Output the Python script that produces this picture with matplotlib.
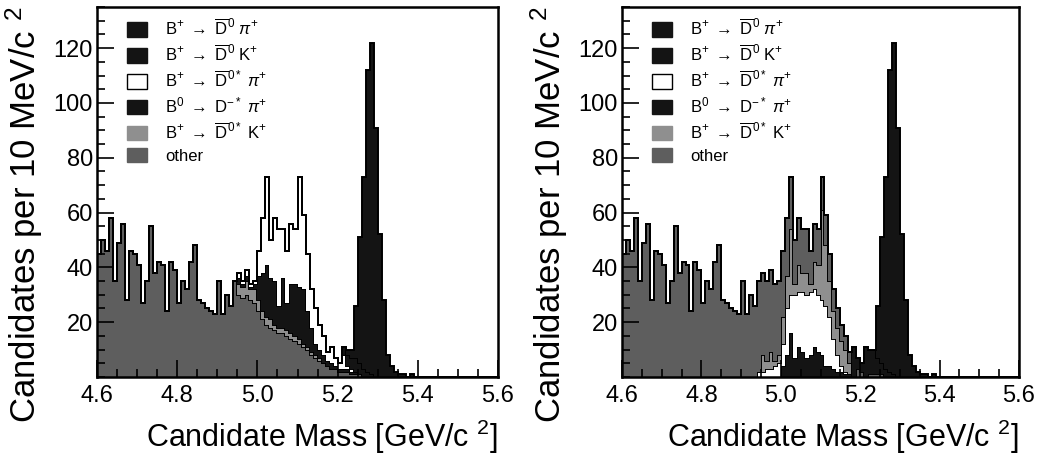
import matplotlib
matplotlib.use("Agg")
import matplotlib.pyplot as plt
import numpy as np
from matplotlib.patches import Patch
from matplotlib.ticker import MultipleLocator

plt.rcParams['font.family'] = ['Liberation Sans', 'DejaVu Sans']
plt.rcParams['mathtext.fontset'] = 'custom'
plt.rcParams['mathtext.rm'] = 'Liberation Sans'
plt.rcParams['mathtext.it'] = 'Liberation Sans:italic'
plt.rcParams['mathtext.bf'] = 'Liberation Sans:bold'

# 100 bins of 10 MeV from 4.6 to 5.6 GeV
edges = np.linspace(4.6, 5.6, 101)

# --- left panel, counts per bin: (first bin, values) ---
other_L = (0, [45, 50, 46, 58, 35, 49, 56, 28, 46, 45, 41, 27, 35, 55, 38, 42, 41, 24, 42, 39,
               27, 35, 32, 42, 48, 28, 27, 25, 24, 23, 35, 23, 30, 26, 35, 30, 29, 30, 28, 27,
               24, 21, 19, 18, 17, 16, 16, 15, 14, 13, 12, 11, 10, 8, 7, 6, 5, 4, 3, 3,
               2, 2, 2, 1, 1, 1])
dstk_L = (35, [4, 4, 5, 4, 5, 4, 3, 3, 3, 2, 2, 2, 2, 2, 2, 2, 1, 1, 1, 1, 1])
dstpi0_L = (35, [2, 1, 2, 1, 2, 9, 14, 19, 15, 16, 8, 18, 10, 18, 19, 19, 20, 13, 9, 4,
                 3, 3, 2, 2, 1, 1, 1, 1, 1, 1])
dstpi_L = (35, [2, 1, 2, 1, 1, 9, 20, 32, 14, 23, 28, 18, 19, 22, 20, 40, 27, 21, 14, 13,
                9, 7, 3, 6, 3, 2, 5, 1, 1])
d0k_L = (61, [3, 4, 4, 5, 4, 3, 2, 1])
d0pi_L = (62, [2, 3, 19, 46, 70, 110, 121, 91, 52, 28, 8, 4, 2, 1, 1, 0, 1])

# --- right panel ---
other_R = (0, [45, 50, 46, 58, 35, 49, 56, 28, 46, 45, 41, 27, 35, 55, 38, 42, 41, 24, 42, 39,
               27, 35, 32, 42, 48, 28, 27, 25, 24, 23, 35, 23, 30, 26, 33, 30, 29, 30, 28, 27,
               24, 21, 19, 16, 17, 16, 16, 12, 14, 13, 12, 11, 10, 8, 7, 6, 5, 4, 0, 3,
               2, 0, 1, 1, 1, 1])
dstk_R = (35, [6, 3, 6, 2, 3, 10, 12, 24, 4, 10, 7, 8, 3, 10, 11, 33, 22, 13, 10, 10, 9, 8, 4])
dstpi_R = (34, [2, 2, 3, 3, 4, 5, 8, 17, 14, 23, 20, 22, 23, 23, 21, 21, 20, 22, 18, 11, 6, 2, 1])
dstpi0_R = (40, [4, 8, 16, 7, 11, 9, 7, 8, 11, 9, 8, 4, 4, 3, 2, 2, 1, 1])
d0k_R = (58, [11, 4, 3, 11, 9, 9, 6, 4, 3, 2, 1])
d0pi_R = (64, [19, 46, 70, 110, 121, 91, 52, 28, 8, 4, 2, 1, 1, 0, 1])

labels = [r'B$^{+}$ $\rightarrow$ $\overline{\mathrm{D}}^{0}$ $\pi^{+}$',
          r'B$^{+}$ $\rightarrow$ $\overline{\mathrm{D}}^{0}$ K$^{+}$',
          r'B$^{+}$ $\rightarrow$ $\overline{\mathrm{D}}^{0*}$ $\pi^{+}$',
          r'B$^{0}$ $\rightarrow$ D$^{-*}$ $\pi^{+}$',
          r'B$^{+}$ $\rightarrow$ $\overline{\mathrm{D}}^{0*}$ K$^{+}$',
          'other']

BLACK = '#141414'
C_DSTK = '#8f8f8f'
C_OTHER = '#5e5e5e'
colors = [BLACK, BLACK, 'white', BLACK, C_DSTK, C_OTHER]


def place(series):
    start, vals = series
    h = np.zeros(len(edges) - 1)
    h[start:start + len(vals)] = vals
    return h


def draw_panel(ax, layers):
    bottom = np.zeros(len(edges) - 1)
    for series, col in layers:
        top = bottom + place(series)
        ax.stairs(top, edges, baseline=bottom, fill=True, color=col, lw=0)
        ax.stairs(top, edges, baseline=None, color='black', lw=1.4)
        bottom = top

    ax.set_xlim(4.6, 5.6)
    ax.set_ylim(0, 135)
    ax.set_xticks([4.6, 4.8, 5.0, 5.2, 5.4, 5.6])
    ax.set_xticklabels(['4.6', '4.8', '5.0', '5.2', '5.4', '5.6'])
    ax.set_yticks([20, 40, 60, 80, 100, 120])
    ax.xaxis.set_minor_locator(MultipleLocator(0.05))
    ax.yaxis.set_minor_locator(MultipleLocator(5))
    ax.tick_params(which='both', direction='in', top=False, right=False, width=1.2)
    ax.tick_params(which='major', length=12, labelsize=17)
    ax.tick_params(which='minor', length=6)
    ax.tick_params(axis='x', which='major', pad=6)
    ax.tick_params(axis='y', which='major', pad=3)
    for s in ax.spines.values():
        s.set_linewidth(1.8)

    ax.set_xlabel(r'Candidate Mass [GeV/c $^{2}$]', fontsize=22, loc='right')
    ax.xaxis.set_label_coords(1.0, -0.11)
    ax.set_ylabel(r'Candidates per 10 MeV/c $^{2}$', fontsize=25, loc='top')
    ax.yaxis.set_label_coords(-0.13, 1.0)

    handles = [Patch(facecolor=c, edgecolor='black' if c == 'white' else c, lw=1.0)
               for c in colors]
    ax.legend(handles, labels, loc='upper left', bbox_to_anchor=(0.075, 0.97),
              frameon=False, fontsize=12, handlelength=1.2, handleheight=0.95,
              handletextpad=1.1, labelspacing=0.35, borderpad=0, borderaxespad=0)


fig = plt.figure(figsize=(10.44, 4.58), dpi=100)
axL = fig.add_axes([97 / 1044, 1 - 377 / 458, 401 / 1044, 370 / 458])
axR = fig.add_axes([622 / 1044, 1 - 377 / 458, 397 / 1044, 370 / 458])

draw_panel(axL, [(other_L, C_OTHER), (dstk_L, C_DSTK), (dstpi0_L, BLACK),
                 (dstpi_L, 'white'), (d0k_L, BLACK), (d0pi_L, BLACK)])
draw_panel(axR, [(dstpi0_R, BLACK), (dstpi_R, 'white'), (dstk_R, C_DSTK),
                 (other_R, C_OTHER), (d0k_R, BLACK), (d0pi_R, BLACK)])

fig.savefig('out.png', dpi=100)
